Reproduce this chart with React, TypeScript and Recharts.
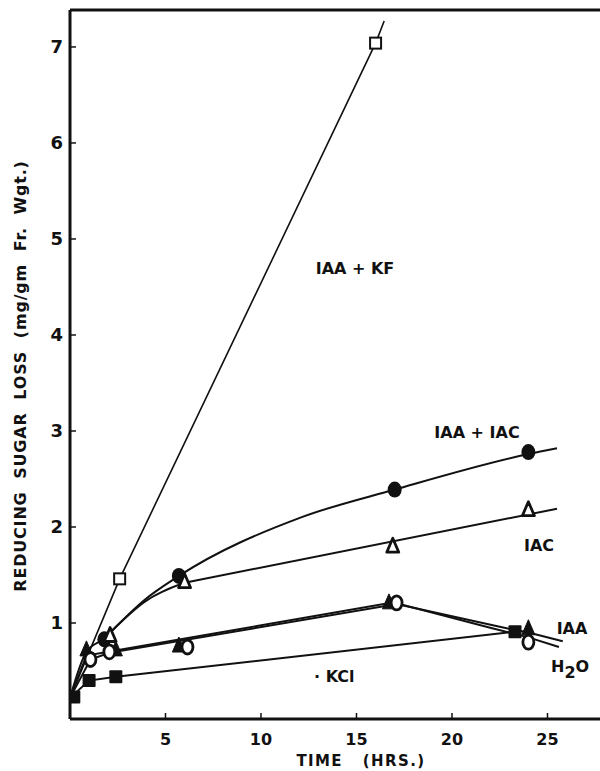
import { ComposedChart, Line, Scatter, XAxis, YAxis, ReferenceLine } from "recharts"

const xTicks = [5, 10, 15, 20, 25]
const yTicks = [1, 2, 3, 4, 5, 6, 7]
const xMax = 27.75
const yMax = 7.385

// plotted points
const kfPoints = [{ x: 2.6, y: 1.46 }, { x: 16, y: 7.04 }]
const kclPoints = [{ x: 0.2, y: 0.23 }, { x: 1.0, y: 0.4 }, { x: 2.4, y: 0.44 }, { x: 23.3, y: 0.91 }]
const iaaIacPoints = [{ x: 1.8, y: 0.83 }, { x: 5.7, y: 1.49 }, { x: 17, y: 2.39 }, { x: 24, y: 2.78 }]
const iacPoints = [{ x: 2.1, y: 0.87 }, { x: 6.0, y: 1.43 }, { x: 16.9, y: 1.8 }, { x: 24, y: 2.18 }]
const iaaPoints = [{ x: 0.86, y: 0.72 }, { x: 2.4, y: 0.72 }, { x: 5.7, y: 0.76 }, { x: 16.7, y: 1.21 }, { x: 24, y: 0.94 }]
const h2oPoints = [{ x: 1.07, y: 0.62 }, { x: 2.06, y: 0.7 }, { x: 6.15, y: 0.75 }, { x: 17.1, y: 1.21 }, { x: 24, y: 0.8 }]

// hand drawn curves
const kfCurve = [{ x: 0, y: 0.22 }, { x: 2.6, y: 1.46 }, { x: 16, y: 7.04 }, { x: 16.45, y: 7.27 }]
const kclCurve = [{ x: 0, y: 0.22 }, { x: 1.0, y: 0.4 }, { x: 2.4, y: 0.44 }, { x: 23.3, y: 0.91 }]
const iaaIacCurve = [
  { x: 0, y: 0.22 }, { x: 0.86, y: 0.7 }, { x: 1.8, y: 0.84 }, { x: 2.2, y: 0.92 }, { x: 3.9, y: 1.24 },
  { x: 5.7, y: 1.49 }, { x: 12.1, y: 2.1 }, { x: 17, y: 2.39 }, { x: 24, y: 2.76 }, { x: 25.5, y: 2.82 },
]
// IAC: bends up to ~6 h, then runs straight
const iacCurveHead = [{ x: 2.2, y: 0.92 }, { x: 3.9, y: 1.22 }, { x: 6, y: 1.42 }]
const iacCurveTail = [{ x: 6, y: 1.42 }, { x: 25.5, y: 2.19 }]
const iaaCurve = [
  { x: 0, y: 0.22 }, { x: 0.86, y: 0.66 }, { x: 2.3, y: 0.71 }, { x: 16.8, y: 1.21 },
  { x: 22.5, y: 0.96 }, { x: 24, y: 0.9 }, { x: 25.8, y: 0.81 },
]
const h2oCurve = [
  { x: 0, y: 0.22 }, { x: 1.07, y: 0.62 }, { x: 2.06, y: 0.69 }, { x: 17.2, y: 1.2 },
  { x: 22, y: 0.95 }, { x: 24, y: 0.85 }, { x: 25.6, y: 0.75 },
]

const INK = "#111"
const FONT = "'DejaVu Sans', sans-serif"

type P = { cx?: number; cy?: number }

const openSquare = ({ cx = 0, cy = 0 }: P) => (
  <rect x={cx - 5.5} y={cy - 5.5} width={11} height={11} fill="#fff" stroke={INK} strokeWidth={2} />
)
const filledSquare = ({ cx = 0, cy = 0 }: P) => (
  <rect x={cx - 6.5} y={cy - 6.5} width={13} height={13} rx={1} fill={INK} />
)
const filledCircle = ({ cx = 0, cy = 0 }: P) => <ellipse cx={cx} cy={cy} rx={7} ry={8} fill={INK} />
const openCircle = ({ cx = 0, cy = 0 }: P) => (
  <ellipse cx={cx} cy={cy} rx={5.5} ry={7} fill="#fff" stroke={INK} strokeWidth={2.8} />
)
const filledTriangle = ({ cx = 0, cy = 0 }: P) => (
  <polygon points={`${cx},${cy - 9} ${cx + 6.5},${cy + 6} ${cx - 6.5},${cy + 6}`} fill={INK} strokeLinejoin="round" stroke={INK} strokeWidth={1} />
)
const openTriangle = ({ cx = 0, cy = 0 }: P) => (
  <polygon
    points={`${cx},${cy - 8} ${cx + 6},${cy + 6} ${cx - 6},${cy + 6}`}
    fill="#fff"
    stroke={INK}
    strokeWidth={2.8}
    strokeLinejoin="round"
  />
)

const labelStyle = { fontFamily: FONT, fontWeight: 700, fontSize: 16, fill: INK, whiteSpace: "pre" as const }

export default function App() {
  return (
    <div style={{ position: "absolute", left: 0, top: 0, background: "#fff" }}>
      <ComposedChart width={600} height={771} margin={{ top: 10, right: 0, bottom: 0, left: 0 }}>
        <XAxis
          type="number"
          dataKey="x"
          domain={[0, xMax]}
          ticks={xTicks}
          allowDataOverflow
          height={52}
          axisLine={{ stroke: INK, strokeWidth: 3 }}
          tickLine={{ stroke: INK, strokeWidth: 1.5 }}
          tickSize={-6}
          tickMargin={21}
          tick={{ fill: INK, fontFamily: FONT, fontWeight: 700, fontSize: 16 }}
        />
        <YAxis
          type="number"
          dataKey="y"
          domain={[0, yMax]}
          ticks={yTicks}
          allowDataOverflow
          width={70}
          axisLine={{ stroke: INK, strokeWidth: 3 }}
          tickLine={{ stroke: INK, strokeWidth: 1.5 }}
          tickSize={-6}
          tickMargin={13}
          tick={{ fill: INK, fontFamily: FONT, fontWeight: 700, fontSize: 18 }}
        />
        <ReferenceLine y={yMax} stroke={INK} strokeWidth={3} />

        <Line data={kfCurve} dataKey="y" type="linear" stroke={INK} strokeWidth={1.6} dot={false} isAnimationActive={false} />
        <Line data={kclCurve} dataKey="y" type="linear" stroke={INK} strokeWidth={2} dot={false} isAnimationActive={false} />
        <Line data={iaaIacCurve} dataKey="y" type="monotone" stroke={INK} strokeWidth={2} dot={false} isAnimationActive={false} />
        <Line data={iacCurveHead} dataKey="y" type="monotone" stroke={INK} strokeWidth={2} dot={false} isAnimationActive={false} />
        <Line data={iacCurveTail} dataKey="y" type="linear" stroke={INK} strokeWidth={2} dot={false} isAnimationActive={false} />
        <Line data={iaaCurve} dataKey="y" type="linear" stroke={INK} strokeWidth={2} dot={false} isAnimationActive={false} />
        <Line data={h2oCurve} dataKey="y" type="linear" stroke={INK} strokeWidth={2} dot={false} isAnimationActive={false} />

        <Scatter data={kfPoints} dataKey="y" shape={openSquare} isAnimationActive={false} />
        <Scatter data={kclPoints} dataKey="y" shape={filledSquare} isAnimationActive={false} />
        <Scatter data={iaaIacPoints} dataKey="y" shape={filledCircle} isAnimationActive={false} />
        <Scatter data={iacPoints} dataKey="y" shape={openTriangle} isAnimationActive={false} />
        <Scatter data={iaaPoints} dataKey="y" shape={filledTriangle} isAnimationActive={false} />
        <Scatter data={h2oPoints} dataKey="y" shape={openCircle} isAnimationActive={false} />
      </ComposedChart>

      <svg width={600} height={771} style={{ position: "absolute", left: 0, top: 0, pointerEvents: "none" }}>
        <text
          x={26}
          y={376}
          transform="rotate(-90, 26, 376)"
          textAnchor="middle"
          style={{ ...labelStyle, letterSpacing: 0.8 }}
        >
          {"REDUCING  SUGAR  LOSS  (mg/gm  Fr.  Wgt.)"}
        </text>
        <text x={361} y={766} textAnchor="middle" style={{ ...labelStyle, fontSize: 15, letterSpacing: 1.4 }}>
          {"TIME   (HRS.)"}
        </text>
        <text x={355} y={274} textAnchor="middle" style={labelStyle}>IAA + KF</text>
        <text x={477} y={438} textAnchor="middle" style={labelStyle}>IAA + IAC</text>
        <text x={539} y={551} textAnchor="middle" style={labelStyle}>IAC</text>
        <text x={572} y={634} textAnchor="middle" style={labelStyle}>IAA</text>
        <text x={551} y={672} style={labelStyle}>
          H<tspan dy={6}>2</tspan><tspan dy={-6}>O</tspan>
        </text>
        <text x={314} y={682} style={labelStyle}>· KCl</text>
      </svg>
    </div>
  )
}
